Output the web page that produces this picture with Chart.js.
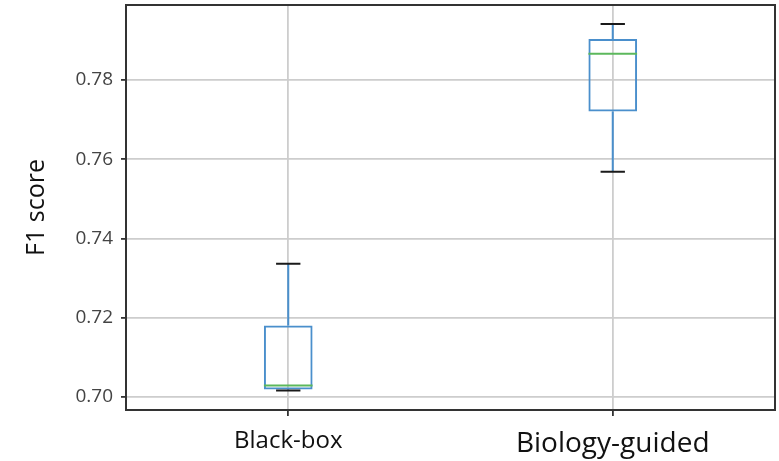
<!DOCTYPE html>
<html>
<head>
<meta charset="utf-8">
<script src="https://cdn.jsdelivr.net/npm/chart.js@4"></script>
<style>
  body { margin: 0; background: #fff; }
</style>
</head>
<body>
<canvas id="box-chart" width="779" height="461"></canvas>
<script>
// Resumo de cada boxplot (mínimo, quartis, mediana, máximo)
const categorias = ["Black-box", "Biology-guided"];
const minimos = [0.7016, 0.7568];
const q1 = [0.7019, 0.7720];
const medianas = [0.7029, 0.7866];
const q3 = [0.7180, 0.7903];
const maximos = [0.7336, 0.7941];
const yTicks = [0.70, 0.72, 0.74, 0.76, 0.78];

const corCaixa = "#4a8fcc";
const corMediana = "#5cb85c";
const corTampa = "#1a1a1a";
const corGrade = "#cdcdcd";
const fonte = "'Open Sans', sans-serif";

// Desenha bigodes, tampas, mediana e a moldura dos eixos
const boxplotExtras = {
  id: "boxplotExtras",
  afterDatasetsDraw(chart) {
    const { ctx, scales: { x, y } } = chart;
    const passo = x.getPixelForValue(1) - x.getPixelForValue(0);
    const meiaCaixa = passo * 0.15 / 2;
    const meiaTampa = meiaCaixa / 2;

    ctx.save();
    categorias.forEach((_, i) => {
      const cx = x.getPixelForValue(i);

      // bigodes
      ctx.strokeStyle = corCaixa;
      ctx.lineWidth = 2;
      ctx.beginPath();
      ctx.moveTo(cx, y.getPixelForValue(q3[i]));
      ctx.lineTo(cx, y.getPixelForValue(maximos[i]));
      ctx.moveTo(cx, y.getPixelForValue(q1[i]));
      ctx.lineTo(cx, y.getPixelForValue(minimos[i]));
      ctx.stroke();

      // tampas
      ctx.strokeStyle = corTampa;
      ctx.lineWidth = 2;
      ctx.beginPath();
      [minimos[i], maximos[i]].forEach((v) => {
        const py = y.getPixelForValue(v);
        ctx.moveTo(cx - meiaTampa, py);
        ctx.lineTo(cx + meiaTampa, py);
      });
      ctx.stroke();

      // mediana
      ctx.strokeStyle = corMediana;
      ctx.lineWidth = 2;
      ctx.beginPath();
      const pm = y.getPixelForValue(medianas[i]);
      ctx.moveTo(cx - meiaCaixa, pm);
      ctx.lineTo(cx + meiaCaixa, pm);
      ctx.stroke();
    });

    // moldura
    const a = chart.chartArea;
    ctx.strokeStyle = "#333";
    ctx.lineWidth = 2;
    ctx.strokeRect(a.left, a.top, a.width, a.height);
    ctx.restore();
  },
};

const ctx = document.getElementById("box-chart").getContext("2d");
new Chart(ctx, {
  type: "bar",
  data: {
    labels: categorias,
    datasets: [{
      label: "F1 score",
      data: categorias.map((_, i) => [q1[i], q3[i]]),
      backgroundColor: "rgba(0, 0, 0, 0)",
      borderColor: corCaixa,
      borderWidth: 2,
      borderSkipped: false,
      barPercentage: 0.15,
      categoryPercentage: 1,
    }],
  },
  options: {
    responsive: false,
    animation: false,
    layout: { padding: { top: 5, right: 4, left: 0, bottom: 0 } },
    plugins: {
      legend: { display: false },
      tooltip: { enabled: false },
    },
    scales: {
      x: {
        offset: true,
        border: { display: false },
        grid: { offset: false, color: corGrade, lineWidth: 1.8, tickLength: 6, tickColor: "#333" },
        ticks: {
          color: "#111",
          padding: 11,
          font: (c) => ({ family: fonte, size: c.index === 0 ? 24 : 28 }),
        },
        afterFit: (s) => {
          s.height = 51;
          s.paddingLeft = 0;
          s.paddingRight = 0;
        },
      },
      y: {
        min: 0.6967,
        max: 0.7989,
        border: { display: false },
        afterBuildTicks: (s) => { s.ticks = yTicks.map((v) => ({ value: v })); },
        grid: { color: corGrade, lineWidth: 1.8, tickLength: 5, tickColor: "#333" },
        ticks: {
          color: "#444",
          padding: 8,
          font: { family: fonte, size: 19 },
          callback: (v) => v.toFixed(2),
        },
        title: {
          display: true,
          text: "F1 score",
          color: "#111",
          font: { family: fonte, size: 25 },
          padding: { top: 22, bottom: 0 },
        },
        afterFit: (s) => {
          s.width = 126;
          s.paddingTop = 0;
          s.paddingBottom = 0;
        },
      },
    },
  },
  plugins: [boxplotExtras],
});
</script>
</body>
</html>
